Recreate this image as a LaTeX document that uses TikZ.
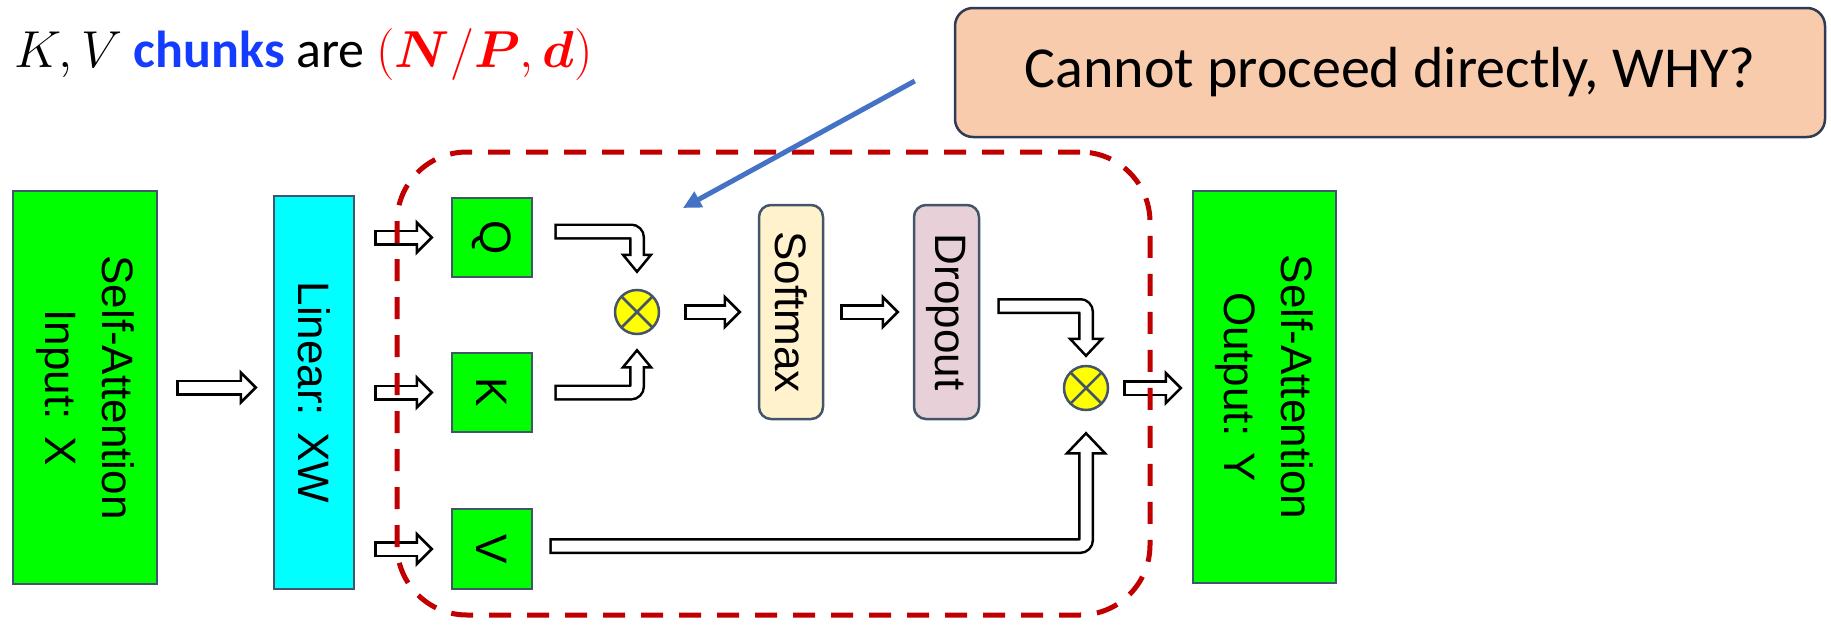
\RequirePackage{fix-cm}
\documentclass[tikz,border=0pt]{standalone}
\usepackage{fontspec}
\usepackage{bm}
\usepackage{graphicx}
\usetikzlibrary{calc,arrows.meta}
\setmainfont{Carlito}
\newfontfamily\boxfont{Liberation Sans}
\definecolor{bord}{HTML}{44546A}
\definecolor{cbord}{HTML}{2F3B52}
\definecolor{bgreen}{HTML}{00FF00}
\definecolor{bcyan}{HTML}{00FFFF}
\definecolor{softfill}{HTML}{FFF2CC}
\definecolor{dropfill}{HTML}{E8D0D9}
\definecolor{peach}{HTML}{F8CBAD}
\definecolor{dred}{HTML}{C00000}
\definecolor{arrblue}{HTML}{4472C4}
\definecolor{chunkblue}{RGB}{20,60,255}
\definecolor{yel}{HTML}{FFFF00}

\newcommand\rarrow[2]{%
  \draw[hshaft] (#1) -- ($(#2)+(-15,0)$);
  \filldraw[hhead] ($(#2)+(-15,-15)$) -- (#2) -- ($(#2)+(-15,15)$) -- cycle;
  \draw[hinner] (#1) -- ($(#2)+(-15,0)$);
}
\newcommand\bentarrow[5]{%
  \draw[hshaft] (#1) -- (#2) -- ($(#3)+(0,#4)$);
  \filldraw[hhead] ($(#3)+(-#5,#4)$) -- (#3) -- ($(#3)+(#5,#4)$) -- cycle;
  \draw[hinner] (#1) -- (#2) -- ($(#3)+(0,#4)$);
}

\begin{document}
\begin{tikzpicture}[x=1pt,y=-1pt,
  bx/.style={draw=bord, line width=2.5pt, inner sep=0pt,
    font=\boxfont\fontsize{44}{57}\selectfont},
  rbx/.style={bx, rounded corners=12pt},
  otimes/.style={circle, minimum size=44pt, inner sep=0pt, fill=yel, draw=bord, line width=2.5pt,
    path picture={\draw[bord, line width=2.5pt]
      (path picture bounding box.north west) -- (path picture bounding box.south east)
      (path picture bounding box.north east) -- (path picture bounding box.south west);}},
  hshaft/.style={black, line width=16pt, rounded corners=6pt},
  hinner/.style={white, line width=11pt, rounded corners=6pt, shorten <=2.5pt, shorten >=-3pt},
  hhead/.style={fill=white, draw=black, line width=2.5pt, line join=miter},
  grpbox/.style={draw=dred, line width=5pt, dash pattern=on 22pt off 16pt, rounded corners=70pt},
  bluearr/.style={draw=arrblue, line width=5pt, -{Triangle[length=18pt,width=17pt]}}
]
\useasboundingbox (0,0) rectangle (1831,624);

% title
\node[anchor=base west, inner sep=0pt, font=\fontsize{52}{62}\selectfont] (title) at (14,67)
  {$K, V$ \textbf{\color{chunkblue}chunks} are {\color{red}$(\bm{N}/\bm{P},\bm{d})$}};

% boxes
\node[bx, fill=bgreen, minimum width=144pt, minimum height=393pt] (in) at (85,387.5)
  {\rotatebox{-90}{\begin{tabular}{@{}c@{}}Self-Attention\\Input: X\end{tabular}}};
\node[bx, fill=bcyan, minimum width=80pt, minimum height=393pt] (lin) at (314,392.5)
  {\rotatebox{-90}{Linear: XW}};
\node[bx, fill=bgreen, minimum width=80pt, minimum height=79pt] (Q) at (492,237.5) {\rotatebox{-90}{Q}};
\node[bx, fill=bgreen, minimum width=80pt, minimum height=79pt] (K) at (492,392.5) {\rotatebox{-90}{K}};
\node[bx, fill=bgreen, minimum width=80pt, minimum height=80pt] (V) at (492,549) {\rotatebox{-90}{V}};
\node[otimes] (ot1) at (637,312) {};
\node[rbx, fill=softfill, minimum width=64pt, minimum height=214pt] (soft) at (791,312) {\rotatebox{-90}{Softmax}};
\node[rbx, fill=dropfill, minimum width=65pt, minimum height=214pt] (drop) at (946.5,312) {\rotatebox{-90}{Dropout}};
\node[otimes] (ot2) at (1086,388) {};
\node[bx, fill=bgreen, minimum width=143pt, minimum height=392pt] (out) at (1264.5,387)
  {\rotatebox{-90}{\begin{tabular}{@{}c@{}}Self-Attention\\Output: Y\end{tabular}}};

% straight hollow arrows
\coordinate (a0s) at ($(in.east)+(18,0)$);
\coordinate (a0t) at ($(lin.west|-in.east)+(-17,0)$);
\rarrow{a0s}{a0t}
\coordinate (aqs) at ($(lin.east|-Q)+(19,0)$);
\coordinate (aqt) at ($(Q.west)+(-19,0)$);
\rarrow{aqs}{aqt}
\coordinate (aks) at ($(lin.east|-K)+(19,0)$);
\coordinate (akt) at ($(K.west)+(-19,0)$);
\rarrow{aks}{akt}
\coordinate (avs) at ($(lin.east|-V)+(19,0)$);
\coordinate (avt) at ($(V.west)+(-19,0)$);
\rarrow{avs}{avt}
\coordinate (a1s) at ($(ot1.east)+(24,0)$);
\coordinate (a1t) at ($(soft.west|-ot1)+(-18,0)$);
\rarrow{a1s}{a1t}
\coordinate (a2s) at ($(soft.east)+(16,0)$);
\coordinate (a2t) at ($(drop.west)+(-15,0)$);
\rarrow{a2s}{a2t}
\coordinate (a3s) at ($(ot2.east)+(14,0)$);
\coordinate (a3t) at ($(out.west|-ot2)+(-11,0)$);
\rarrow{a3s}{a3t}

% bent hollow arrows
\coordinate (qs) at ($(Q.east)+(21,-6)$);
\coordinate (qc) at (ot1|-qs);
\coordinate (qt) at ($(ot1.north)+(0,-17)$);
\bentarrow{qs}{qc}{qt}{-17}{14}
\coordinate (ks) at ($(K.east)+(21,0)$);
\coordinate (kc) at (ot1|-ks);
\coordinate (kt) at ($(ot1.south)+(0,15)$);
\bentarrow{ks}{kc}{kt}{17}{14}
\coordinate (ds) at ($(drop.east)+(17,-6)$);
\coordinate (dc) at (ot2|-ds);
\coordinate (dt) at ($(ot2.north)+(0,-9)$);
\bentarrow{ds}{dc}{dt}{-17}{16}
\coordinate (vs) at ($(V.east)+(16,-3)$);
\coordinate (vc) at (ot2|-vs);
\coordinate (vt) at ($(ot2.south)+(0,22)$);
\bentarrow{vs}{vc}{vt}{20}{19}

% dashed group
\node[grpbox, minimum width=753pt, minimum height=463pt] (grp) at (773.5,383.5) {};

% callout
\node[rounded corners=18pt, fill=peach, draw=cbord, line width=2.5pt,
  minimum width=870pt, minimum height=129pt, font=\fontsize{58}{70}\selectfont] (call) at (1390,72.5)
  {Cannot proceed directly, WHY?};
\coordinate (ptr) at (683,208);
\draw[bluearr] ($(call.west)+(-39,8.5)$) -- (ptr);
\end{tikzpicture}
\end{document}
